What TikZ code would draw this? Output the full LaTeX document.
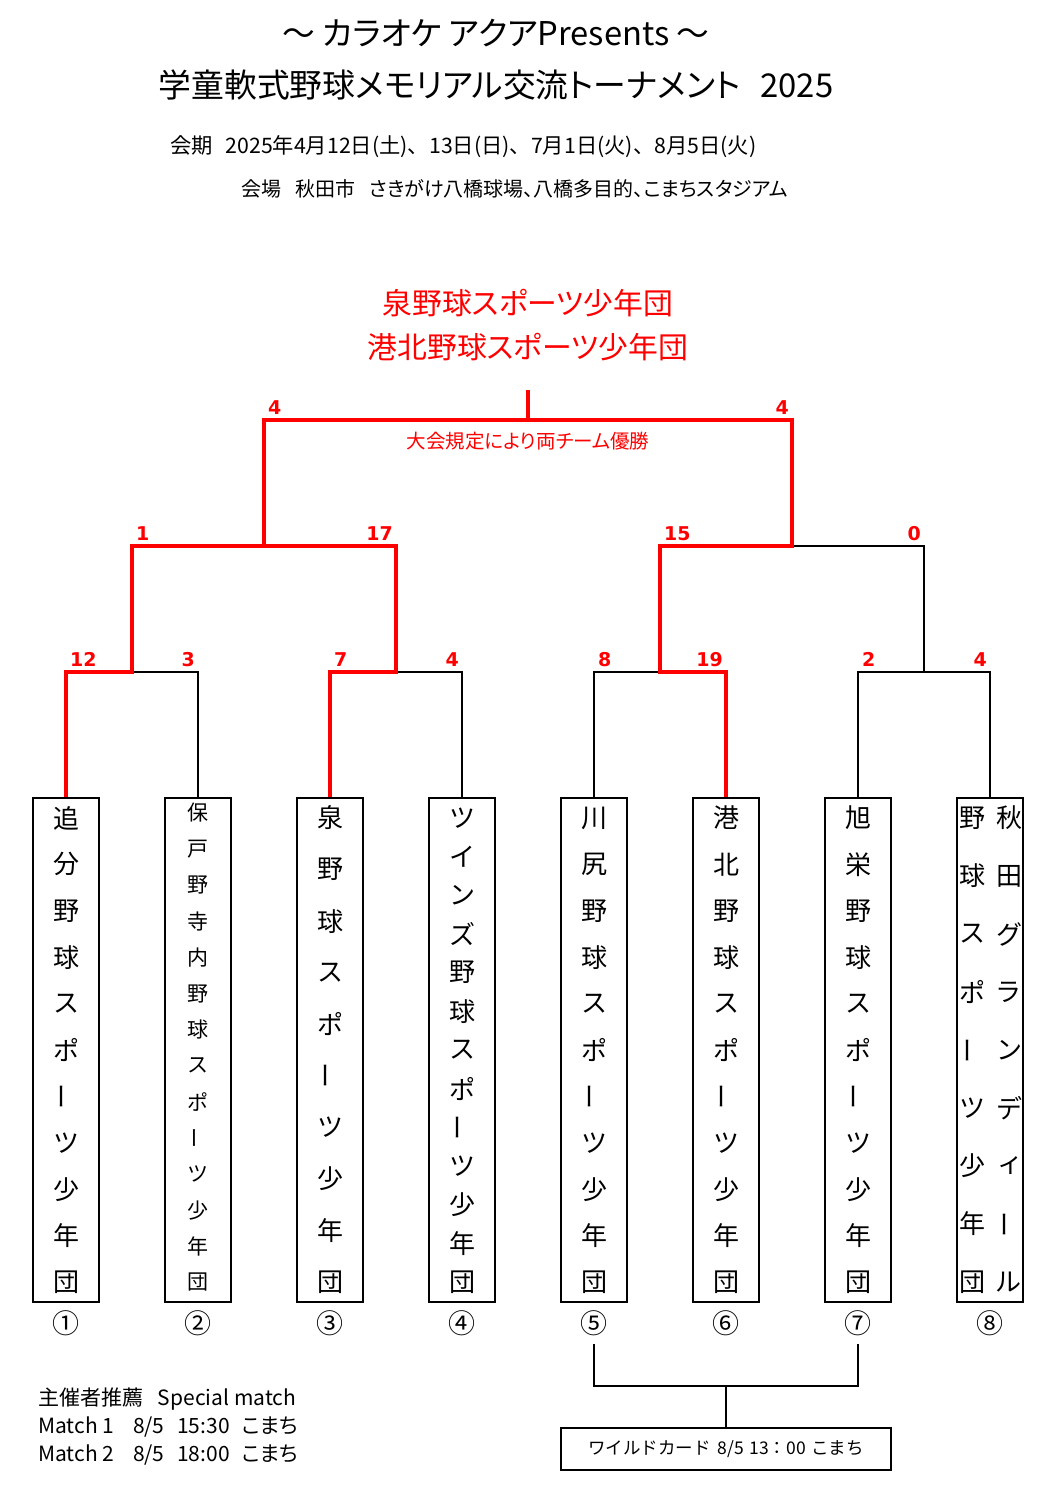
\documentclass[tikz,border=0pt]{standalone}
\usepackage{fontspec}
\usepackage{graphicx}
\setmainfont{Noto Sans CJK JP}[RawFeature=+palt]
\newfontfamily\fullfont{Noto Sans CJK JP}
\newfontfamily\scorefont{DejaVu Sans}
\usetikzlibrary{positioning}
\newcommand\chouon{\rotatebox{90}{ー}}
% one column of a team name, written top to bottom
\newcommand\teamcol[6][tchar]{%
  \foreach \c [count=\i] in {#6}
    \node[#1] (#2-\i) at (#3,{#4+(\i-1)*#5}) {\c};}

\begin{document}
\begin{tikzpicture}[x=1pt,y=-1pt,
    txt/.style={inner sep=0pt},
    team box/.style={draw,line width=1.3pt,minimum width=66pt,
      minimum height=504pt,inner sep=0pt},
    tchar/.style={inner sep=0pt,font=\fontsize{26}{26}\selectfont},
    small tchar/.style={inner sep=0pt,font=\fontsize{21}{21}\selectfont},
    num/.style={inner sep=0pt,font=\fontsize{27}{27}\selectfont},
    line/.style={line width=1.3pt},
    win/.style={red,line width=3.2pt},
    score/.style={red,inner sep=0pt,font=\scorefont\bfseries\fontsize{19}{19}\selectfont},
    wild box/.style={draw,line width=1.3pt,minimum width=330pt,minimum height=42pt,
      font=\fullfont\fontsize{17.5}{17.5}\selectfont}
  ]
  \useasboundingbox (0,0) rectangle (1057,1492);

  % heading
  \node[txt,font=\fontsize{32.7}{32.7}\selectfont] (title1) at (496,33) {～ カラオケ アクアPresents ～};
  \node[txt,font=\fontsize{32.8}{32.8}\selectfont] (title2) at (496,85)
    {学童軟式野球メモリアル交流トーナメント\hspace{0.6em}2025};
  \node[txt,anchor=west,font=\fullfont\fontsize{21.3}{21.3}\selectfont] (kaiki) at (170,147)
    {会期\hspace{0.6em}2025年4月12日(土)、13日(日)、7月1日(火)、8月5日(火)};
  \node[txt,anchor=west,font=\fontsize{20}{20}\selectfont] (kaijo) at (241,189)
    {会場\hspace{0.7em}秋田市\hspace{0.7em}さきがけ八橋球場、八橋多目的、こまちスタジアム};

  % champions
  \node[txt,red,align=center,font=\fontsize{29.8}{44}\selectfont] (champ) at (528,325)
    {泉野球スポーツ少年団\\港北野球スポーツ少年団};
  \node[txt,red,font=\fontsize{19.5}{19.5}\selectfont] (rule) at (528,441) {大会規定により両チーム優勝};

  % teams
  \foreach \i/\x/\c in {1/66/①,2/198/②,3/330/③,4/462/④,5/594/⑤,6/726/⑥,7/858/⑦,8/990/⑧}{
    \node[team box] (t\i) at (\x,1050) {};
    \node[num,below=8pt of t\i] (n\i) {\c};
  }
  \teamcol{a1}{66}{818}{46.4}{追,分,野,球,ス,ポ,\chouon,ツ,少,年,団}
  \teamcol[small tchar]{a2}{198}{813}{36.1}{保,戸,野,寺,内,野,球,ス,ポ,\chouon,ツ,少,年,団}
  \teamcol{a3}{330}{818}{51.56}{泉,野,球,ス,ポ,\chouon,ツ,少,年,団}
  \teamcol{a4}{462}{818}{38.67}{ツ,イ,ン,ズ,野,球,ス,ポ,\chouon,ツ,少,年,団}
  \teamcol{a5}{594}{818}{46.4}{川,尻,野,球,ス,ポ,\chouon,ツ,少,年,団}
  \teamcol{a6}{726}{818}{46.4}{港,北,野,球,ス,ポ,\chouon,ツ,少,年,団}
  \teamcol{a7}{858}{818}{46.4}{旭,栄,野,球,ス,ポ,\chouon,ツ,少,年,団}
  \teamcol{a8r}{1009}{818}{58}{秋,田,グ,ラ,ン,デ,ィ,\chouon,ル}
  \teamcol{a8l}{972}{818}{58}{野,球,ス,ポ,\chouon,ツ,少,年,団}

  % bracket
  \coordinate (q1) at (132,672);
  \coordinate (q2) at (396,672);
  \coordinate (q3) at (660,672);
  \coordinate (q4) at (924,672);
  \coordinate (s1) at (264,546);
  \coordinate (s2) at (792,546);
  \coordinate (f) at (528,420);
  \coordinate (ctop) at (528,390);
  \draw[line] (t1.north) |- (q1) -| (t2.north);
  \draw[line] (t3.north) |- (q2) -| (t4.north);
  \draw[line] (t5.north) |- (q3) -| (t6.north);
  \draw[line] (t7.north) |- (q4) -| (t8.north);
  \draw[line] (q1) |- (s1) -| (q2);
  \draw[line] (q3) |- (s2) -| (q4);
  \draw[win] (t1.north) |- (q1) |- (s1) |- (f) -| (s2) -| (q3) -| (t6.north);
  \draw[win] (t3.north) |- (q2) |- (s1);
  \draw[win] (f) -- (ctop);

  % scores
  \foreach \x/\y/\s/\n in {66/672/12/p1,330/672/7/p3,594/672/8/p5,858/672/2/p7,
      132/546/1/r1,660/546/15/r3,264/420/4/g1}
    \node[score,anchor=base west] (\n) at (\x+4,\y-6) {\s};
  \foreach \x/\y/\s/\n in {198/672/3/p2,462/672/4/p4,726/672/19/p6,990/672/4/p8,
      396/546/17/r2,924/546/0/r4,792/420/4/g2}
    \node[score,anchor=base east] (\n) at (\x-3,\y-6) {\s};

  % wild card
  \coordinate (w) at (726,1386);
  \node[wild box] (wc) at (726,1449) {ワイルドカード\hspace{0.4em}8/5\hspace{0.3em}13：00\hspace{0.3em}こまち};
  \draw[line,shorten <=8pt,shorten >=8pt] (n5.south) |- (w) -| (n7.south);
  \draw[line] (w) -- (wc);

  % special matches
  \node[txt,anchor=west,font=\fontsize{21}{21}\selectfont] (special) at (38,1399)
    {主催者推薦\hspace{0.7em}Special match};
  \node[txt,anchor=west,font=\fontsize{21}{21}\selectfont] (match1) at (38,1427)
    {Match 1\hspace{0.9em}8/5\hspace{0.6em}15:30\hspace{0.6em}こまち};
  \node[txt,anchor=west,font=\fontsize{21}{21}\selectfont] (match2) at (38,1455)
    {Match 2\hspace{0.9em}8/5\hspace{0.6em}18:00\hspace{0.6em}こまち};
\end{tikzpicture}
\end{document}
